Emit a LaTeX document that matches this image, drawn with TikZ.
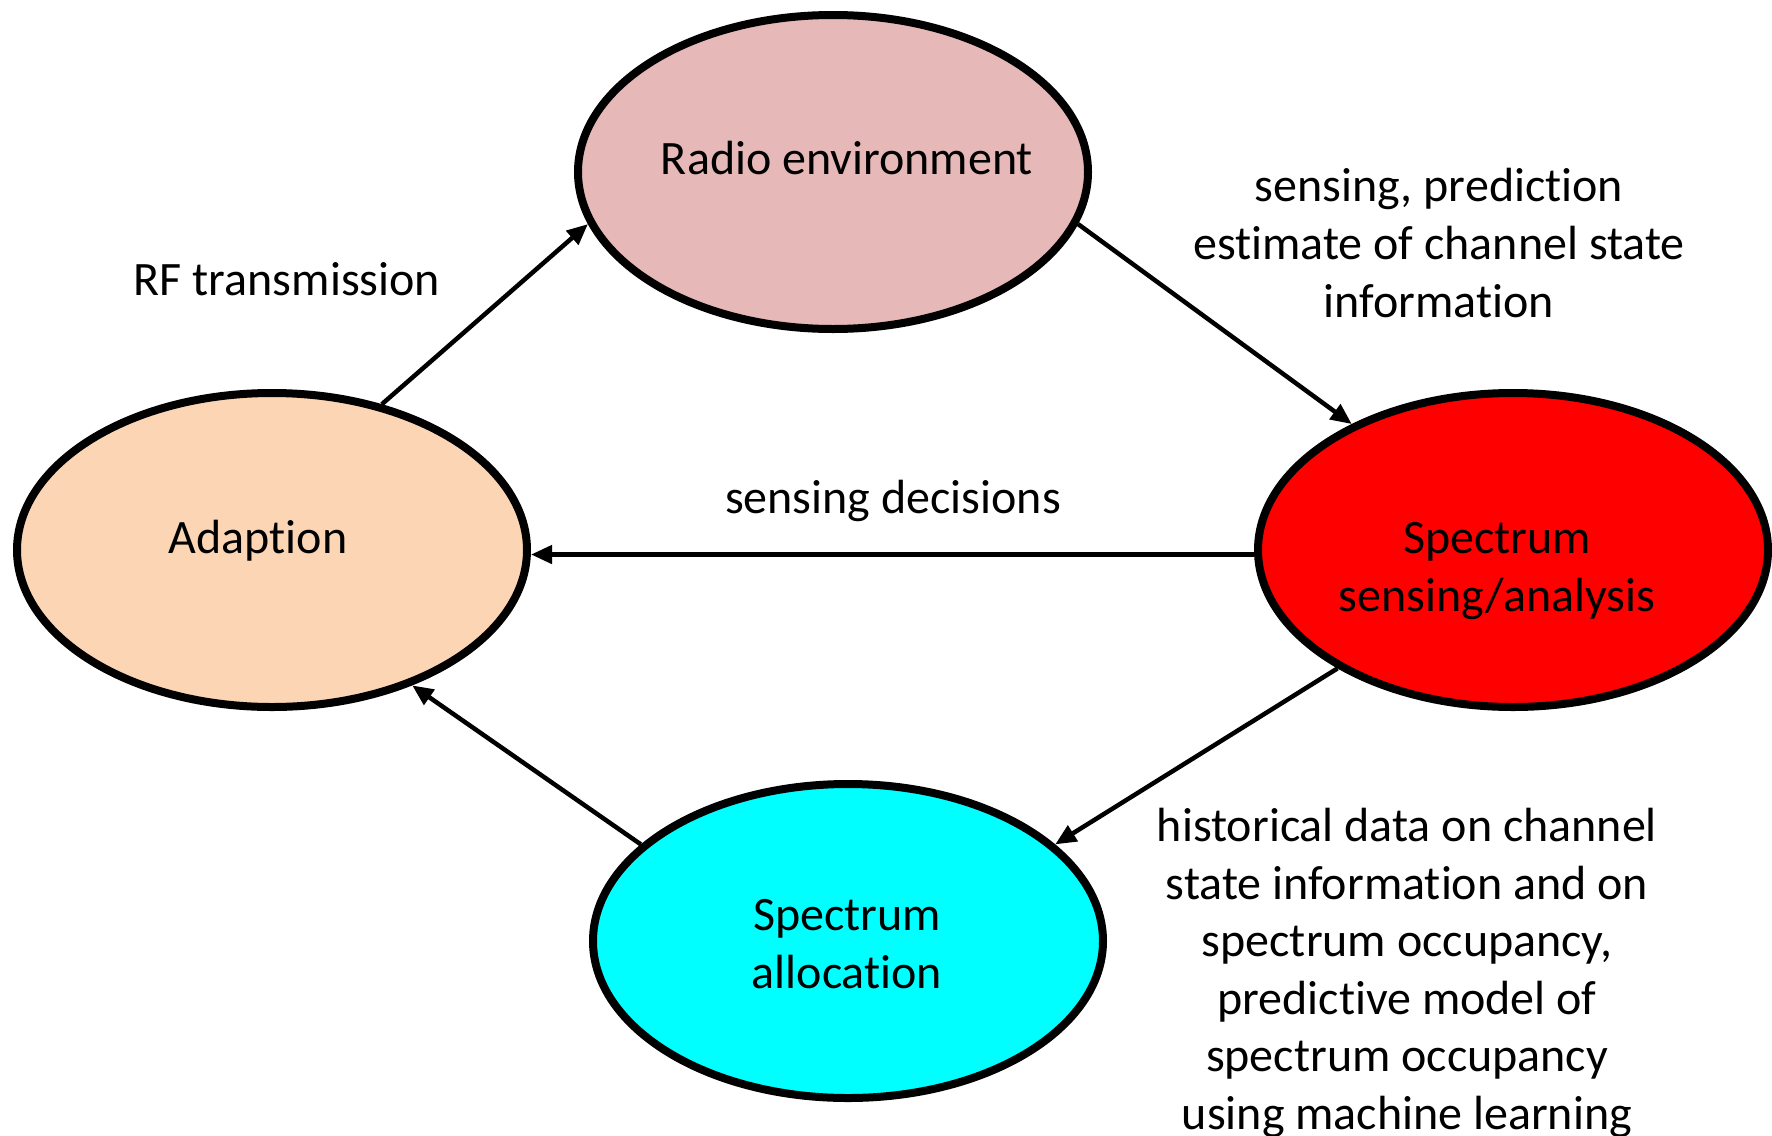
\documentclass[tikz,border=0pt]{standalone}
\usepackage{fontspec}
\setmainfont{Carlito}[Ligatures={NoCommon,NoRare,NoContextual}]
\usetikzlibrary{shapes.geometric,arrows.meta}
\definecolor{radiofill}{RGB}{230,184,183}
\definecolor{adaptfill}{RGB}{252,213,181}
\definecolor{sensefill}{RGB}{255,0,0}
\definecolor{allocfill}{RGB}{0,255,255}
% keeps "t" and "i" as separate glyphs
\newcommand{\sepglyph}{\kern0pt }
\begin{document}
\begin{tikzpicture}[x=1pt,y=-1pt,
  blob/.style={ellipse, draw=black, line width=8pt, minimum width=510pt,
    minimum height=314pt, inner sep=0pt},
  lbl/.style={align=center, font=\fontsize{48}{57.6}\selectfont, inner sep=0pt},
  flow/.style={line width=4.5pt, -{Triangle[length=21pt,width=18pt]}}]
\useasboundingbox (0,0) rectangle (1772,1135);
\clip (0,0) rectangle (1772,1135);

% the four stages of the cycle
\node[blob, fill=radiofill] (radio) at (833,172) {};
\node[blob, fill=adaptfill] (adapt) at (272,550) {};
\node[blob, fill=sensefill] (sense) at (1513,550) {};
\node[blob, fill=allocfill] (alloc) at (848,941) {};

\node[lbl] (radiotxt) at (847,158) {Radio environment};
\node[lbl] (adapttxt) at (258,541) {Adapt\sepglyph ion};
\node[lbl] (sensetxt) at (1497,571) {Spectrum\\sensing/analysis};
\node[lbl] (alloctxt) at (847,944) {Spectrum\\allocat\sepglyph ion};

% connectors
\draw[flow] (adapt.53) -- (radio.192);
\draw[flow] (radio.-12) -- (sense.142);
\draw[flow] (sense.181) -- (sense.181 -| adapt.east);
\draw[flow] (sense.214) -- (alloc.25);
\draw[flow] (alloc.155) -- (adapt.-44);

% connector labels
\node[lbl] (rf) at (287,279) {RF transmission};
\node[lbl] (est) at (1439,243) {sensing, predict\sepglyph ion\\est\sepglyph imate of channel state\\informat\sepglyph ion};
\node[lbl] (dec) at (893,501) {sensing decisions};
\node[lbl] (hist) at (1407,973) {historical data on channel\\state informat\sepglyph ion and on\\spectrum occupancy,\\predict\sepglyph ive model of\\spectrum occupancy\\using machine learning};
\end{tikzpicture}
\end{document}
